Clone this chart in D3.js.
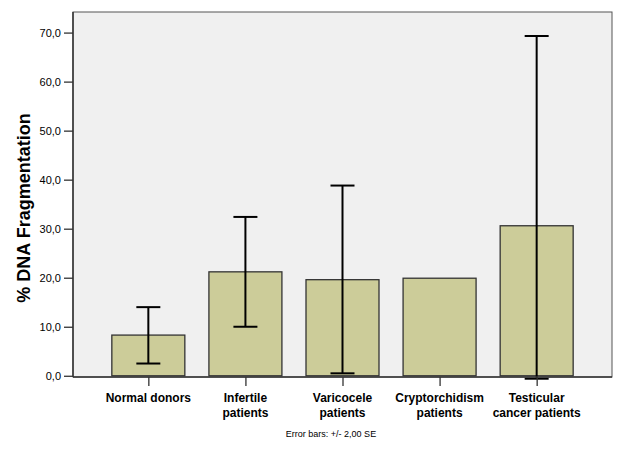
<!DOCTYPE html>
<html><head><meta charset="utf-8">
<script src="https://cdn.jsdelivr.net/npm/d3@7"></script>
<style>body{margin:0;background:#fff}svg{display:block}</style>
</head><body>
<script>
const categories = [["Normal donors"],["Infertile","patients"],["Varicocele","patients"],["Cryptorchidism","patients"],["Testicular","cancer patients"]];
const means = [8.3, 21.2, 19.6, 19.9, 30.6];
const errLow = [2.5, 10.0, 0.5, null, -0.6];
const errHigh = [14.0, 32.4, 38.8, null, 69.3];
const yTicks = [0,10,20,30,40,50,60,70];

const W=638,H=459;
const svg=d3.select("body").append("svg").attr("width",W).attr("height",H);
const L=73,R=612,T=12,B=377;
const y=d3.scaleLinear().domain([-0.25,74.2]).range([B,T]);
const x=d3.scalePoint().domain(d3.range(categories.length)).range([L,R]).padding(0.776);
const bw=73;

svg.append("rect").attr("x",L).attr("y",T).attr("width",R-L).attr("height",B-T).attr("fill","#f0f0f0").attr("stroke","#555").attr("stroke-width",1);

svg.selectAll("rect.bar").data(means).join("rect").attr("class","bar")
 .attr("x",(d,i)=>x(i)-bw/2).attr("width",bw)
 .attr("y",d=>y(d)).attr("height",d=>y(0)-y(d))
 .attr("fill","#cccc99").attr("stroke","#333").attr("stroke-width",1.3);

const eb=svg.append("g").attr("stroke","#000").attr("stroke-width",2);
means.forEach((m,i)=>{
  if(errLow[i]==null) return;
  const cx=x(i);
  eb.append("line").attr("x1",cx).attr("x2",cx).attr("y1",y(errLow[i])).attr("y2",y(errHigh[i]));
  [errLow[i],errHigh[i]].forEach(v=>eb.append("line").attr("x1",cx-12).attr("x2",cx+12).attr("y1",y(v)).attr("y2",y(v)));
});

svg.append("line").attr("x1",L).attr("x2",L).attr("y1",T).attr("y2",B).attr("stroke","#333").attr("stroke-width",1.5);
svg.append("line").attr("x1",L).attr("x2",R).attr("y1",B).attr("y2",B).attr("stroke","#333").attr("stroke-width",1.5);

const ya=svg.append("g").attr("transform",`translate(${L},0)`)
 .call(d3.axisLeft(y).tickValues(yTicks).tickSize(9).tickPadding(3).tickFormat(d=>d3.format(".1f")(d).replace(".",",")));
ya.select(".domain").remove();
ya.selectAll("line").attr("stroke","#333").attr("stroke-width",1.3);
ya.selectAll("text").attr("font-family","Arial, Liberation Sans, sans-serif").attr("font-size",11).attr("fill","#000");

const xa=svg.append("g").attr("transform",`translate(0,${B})`)
 .call(d3.axisBottom(x).tickSize(9).tickFormat(""));
xa.select(".domain").remove();
xa.selectAll("line").attr("stroke","#333").attr("stroke-width",1.3);

const lab=svg.append("g").attr("font-family","Arial, Liberation Sans, sans-serif").attr("font-weight","bold").attr("font-size",12).attr("text-anchor","middle");
categories.forEach((c,i)=>{
  c.forEach((s,j)=>lab.append("text").attr("x",x(i)).attr("y",402+j*14.5).text(s));
});

svg.append("text").attr("transform",`translate(30,208) rotate(-90)`).attr("text-anchor","middle")
 .attr("font-family","Arial, Liberation Sans, sans-serif").attr("font-weight","bold").attr("font-size",18).text("% DNA Fragmentation");

svg.append("text").attr("x",331).attr("y",437).attr("text-anchor","middle")
 .attr("font-family","Arial, Liberation Sans, sans-serif").attr("font-size",9).text("Error bars: +/- 2,00 SE");
</script>
</body></html>
